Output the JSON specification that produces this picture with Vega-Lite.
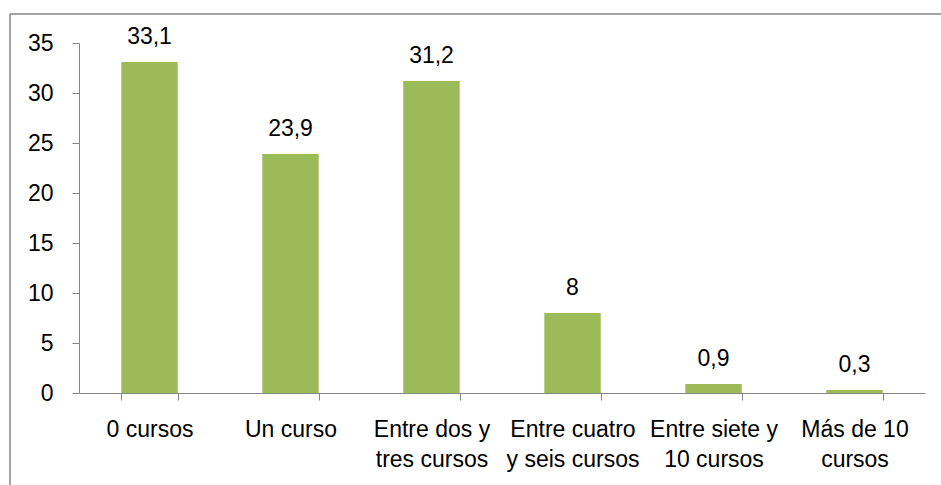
{
  "$schema": "https://vega.github.io/schema/vega-lite/v6.json",
  "width": 931,
  "height": 471,
  "autosize": {"type": "none"},
  "padding": {"left": 10, "top": 14, "right": 0, "bottom": 0},
  "background": "white",
  "config": {
    "view": {"stroke": "#868686", "strokeWidth": 1.5, "strokeDash": [931, 1402, 471, 0]},
    "font": "Liberation Sans",
    "locale": {"number": {"decimal": ",", "thousands": ".", "grouping": [3], "currency": ["", " €"]}},
    "axis": {"domainColor": "#868686", "tickColor": "#868686", "labelColor": "#000000", "labelFont": "Liberation Sans", "labelFontSize": 23, "grid": false, "title": null}
  },
  "data": {
    "values": [
      {"categoria": "0 cursos", "valor": 33.1},
      {"categoria": "Un curso", "valor": 23.9},
      {"categoria": "Entre dos y tres cursos", "valor": 31.2},
      {"categoria": "Entre cuatro y seis cursos", "valor": 8},
      {"categoria": "Entre siete y 10 cursos", "valor": 0.9},
      {"categoria": "Más de 10 cursos", "valor": 0.3}
    ]
  },
  "encoding": {
    "x": {
      "field": "categoria",
      "type": "nominal",
      "sort": null,
      "scale": {"range": [69, 915], "paddingInner": 0.6, "paddingOuter": 0.3},
      "axis": {
        "offset": -92,
        "labelAngle": 0,
        "labelPadding": 18,
        "labelLineHeight": 30,
        "tickSize": 7,
        "tickBand": "extent",
        "labelExpr": "datum.label == 'Entre dos y tres cursos' ? ['Entre dos y', 'tres cursos'] : datum.label == 'Entre cuatro y seis cursos' ? ['Entre cuatro', 'y seis cursos'] : datum.label == 'Entre siete y 10 cursos' ? ['Entre siete y', '10 cursos'] : datum.label == 'Más de 10 cursos' ? ['Más de 10', 'cursos'] : datum.label"
      }
    },
    "y": {
      "field": "valor",
      "type": "quantitative",
      "scale": {"domain": [0, 35], "range": [379, 29], "nice": false},
      "axis": {"offset": -69, "values": [0, 5, 10, 15, 20, 25, 30, 35], "tickSize": 7, "labelPadding": 19}
    }
  },
  "layer": [
    {"mark": {"type": "bar", "color": "#9BBB59"}},
    {
      "mark": {"type": "text", "baseline": "alphabetic", "dy": -18, "fontSize": 23, "color": "#000000", "font": "Liberation Sans"},
      "encoding": {"text": {"field": "valor", "type": "quantitative", "format": "~g"}}
    }
  ]
}
